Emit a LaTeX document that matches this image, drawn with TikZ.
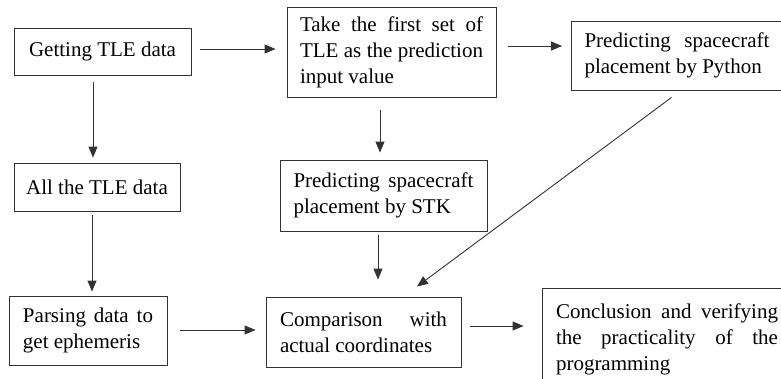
\documentclass[tikz,border=0pt]{standalone}
\usepackage{fontspec}
\setmainfont{Liberation Serif}
\usetikzlibrary{arrows.meta,calc}
\newcommand\jl[2]{{\spaceskip=0pt\xspaceskip=0pt\makebox[#1][s]{#2}}}
\newcommand\pl[1]{{\spaceskip=0pt\xspaceskip=0pt #1}}
\begin{document}
\begin{tikzpicture}[x=1pt,y=-1pt,
  box/.style={draw=black!80, line width=0.9pt, inner sep=0pt, align=left,
    font=\fontsize{21}{26}\selectfont},
  arr/.style={draw=black!80, line width=0.9pt, -{Triangle[length=11pt,width=9pt]}}]
\useasboundingbox (0,0) rectangle (781,378);
\clip (0,0) rectangle (781,378);
\node[box, minimum width=177pt, minimum height=47pt] (b1) at (102.5,51.5) {\pl{Getting TLE data}};
\node[box, minimum width=209pt, minimum height=90pt, text width=183pt] (b2) at (391.5,52)
  {\jl{183pt}{Take the first set of}\\\jl{183pt}{TLE as the prediction}\\\pl{input value}};
\node[box, minimum width=211pt, minimum height=69pt, text width=185pt] (b3) at (677,55.5)
  {\jl{185pt}{Predicting spacecraft}\\\pl{placement by Python}};
\node[box, minimum width=166pt, minimum height=48pt] (b4) at (97,187) {\pl{All the TLE data}};
\node[box, minimum width=207pt, minimum height=71pt, text width=180pt] (b5) at (383.5,195.5)
  {\jl{180pt}{Predicting spacecraft}\\\pl{placement by STK}};
\node[box, minimum width=158pt, minimum height=69pt, text width=130pt] (b6) at (88,330.5)
  {\jl{130pt}{Parsing data to}\\\pl{get ephemeris}};
\node[box, minimum width=195pt, minimum height=70pt, text width=167pt] (b7) at (363.5,332)
  {\jl{167pt}{Comparison with}\\\pl{actual coordinates}};
\node[box, minimum width=250pt, minimum height=103pt, text width=222pt] (b8) at (667,339.5)
  {\jl{222pt}{Conclusion and verifying}\\\jl{222pt}{the practicality of the}\\\pl{programming}};
\draw[arr] ($(b1.east)+(9,-2.5)$) -- ($(b2.west |- b1.east)+(-11,-2.5)$);
\draw[arr] ($(b2.east)+(12,-6)$) -- ($(b3.west |- b2.east)+(-9,-6)$);
\draw[arr] ($(b1.south)+(-9.5,7)$) -- ($(b4.north)+(-4,-5)$);
\draw[arr] ($(b2.south)+(-11.5,13)$) -- ($(b5.north)+(-3.5,-7)$);
\draw[arr] ($(b4.south)+(-5,4)$) -- ($(b6.north)+(4,-4)$);
\draw[arr] ($(b5.south)+(-5.5,4)$) -- ($(b7.north)+(14.5,-17)$);
\draw[arr] ($(b3.south)+(-5.5,7)$) -- ($(b7.north)+(53.5,-10)$);
\draw[arr] ($(b6.east)+(13,-0.5)$) -- ($(b7.west)+(-10,-2)$);
\draw[arr] ($(b7.east)+(9,-6)$) -- ($(b8.west)+(-18,-13.5)$);
\end{tikzpicture}
\end{document}
